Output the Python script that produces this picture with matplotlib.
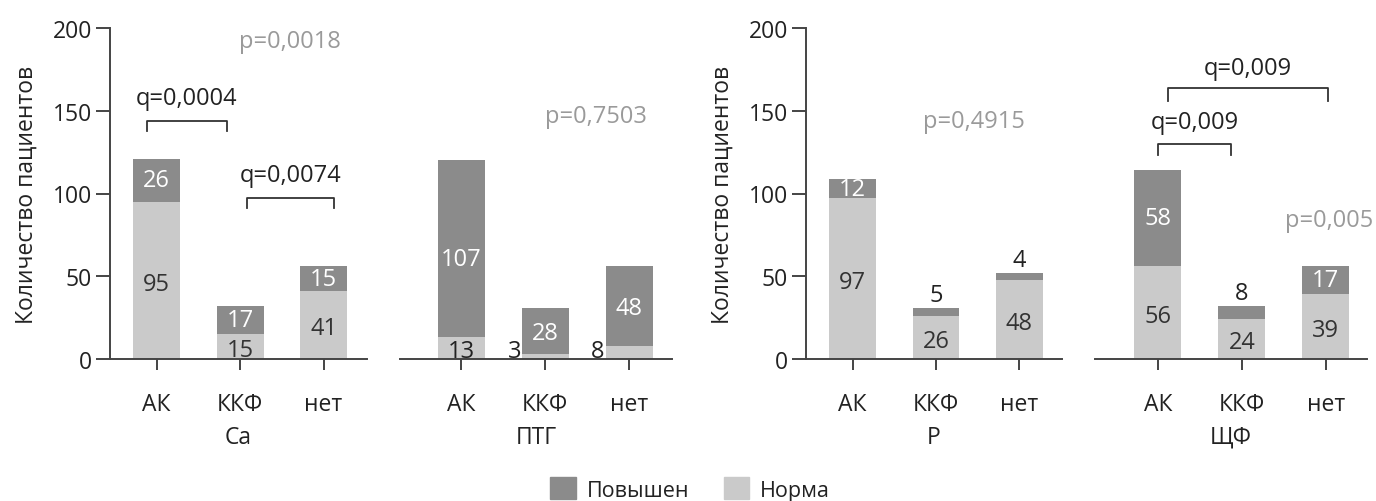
import numpy as np
import matplotlib
matplotlib.use("Agg")
import matplotlib.pyplot as plt
from matplotlib.patches import Patch

plt.rcParams["font.family"] = ["Open Sans", "DejaVu Sans"]
plt.rcParams["font.size"] = 17

# Patient counts per group, "Норма" (bottom) and "Повышен" (top)
groups = ["АК", "ККФ", "нет"]
ca_norm = [95, 15, 41]
ca_high = [26, 17, 15]
ptg_norm = [13, 3, 8]
ptg_high = [107, 28, 48]
p_norm = [97, 26, 48]
p_high = [12, 5, 4]
alp_norm = [56, 24, 39]
alp_high = [58, 8, 17]

DARK = "#8b8b8b"
LIGHT = "#cacaca"
AXIS = "#444444"
PGREY = "#9a9a9a"

fig = plt.figure(figsize=(13.76, 5.02), dpi=100)
W, H = 1376, 502


def add_ax(x0, x1):
    # pixel box -> figure fraction; y from 29 (200) down to 360 (0)
    return fig.add_axes([x0 / W, (H - 360) / H, (x1 - x0) / W, 331 / H])


def style(ax, xlim, show_y, title):
    ax.set_xlim(*xlim)
    ax.set_ylim(0, 200)
    for s in ["top", "right"]:
        ax.spines[s].set_visible(False)
    ax.spines["bottom"].set_color(AXIS)
    ax.spines["bottom"].set_linewidth(1.4)
    ax.set_xticks(range(len(groups)))
    ax.set_xticklabels(groups, color="#222222", fontsize=16.5)
    ax.tick_params(axis="x", length=8, width=1.4, color=AXIS, pad=16)
    if show_y:
        ax.spines["left"].set_color(AXIS)
        ax.spines["left"].set_linewidth(1.4)
        ax.set_yticks([0, 50, 100, 150, 200])
        ax.tick_params(axis="y", length=10, width=1.4, color=AXIS, labelcolor="#222222",
                       labelsize=16.5, pad=3)
        ax.set_ylabel("Количество пациентов", color="#222222", labelpad=10, fontsize=16.5)
    else:
        ax.spines["left"].set_visible(False)
        ax.set_yticks([])
    ax.set_xlabel(title, color="#222222", labelpad=6, fontsize=16.5)


def stacked(ax, norm, high, inside_norm=(True, True, True), inside_high=(True, True, True)):
    x = np.arange(len(groups))
    ax.bar(x, norm, width=0.56, color=LIGHT, linewidth=0)
    ax.bar(x, high, width=0.56, bottom=norm, color=DARK, linewidth=0)
    for i in x:
        if inside_norm[i]:
            ax.text(i, norm[i] / 2 - 2, str(norm[i]), ha="center", va="center", color="#333333")
        if inside_high[i]:
            ax.text(i, norm[i] + high[i] / 2, str(high[i]), ha="center", va="center", color="white")
        else:
            ax.text(i, norm[i] + high[i] + 0.5, str(high[i]), ha="center", va="bottom",
                    color="#222222")


def bracket(ax, x0, x1, y, drop, label, ty):
    ax.plot([x0, x0, x1, x1], [y - drop, y, y, y - drop], color="#333333", lw=1.3,
            clip_on=False)
    ax.text((x0 + x1) / 2, ty, label, ha="center", va="center", color="#222222")


# Ca
ax1 = add_ax(110, 367)
style(ax1, (-0.56, 2.52), True, "Ca")
stacked(ax1, ca_norm, ca_high)
ax1.text(1.6, 192, "p=0,0018", ha="center", va="center", color=PGREY)
bracket(ax1, -0.12, 0.84, 144, 6, "q=0,0004", 158)
bracket(ax1, 1.08, 2.13, 97, 6, "q=0,0074", 111)

# ПТГ
ax2 = add_ax(400, 672)
style(ax2, (-0.73, 2.51), False, "ПТГ")
x = np.arange(len(groups))
ax2.bar(x, ptg_norm, width=0.56, color=LIGHT, linewidth=0)
ax2.bar(x, ptg_high, width=0.56, bottom=ptg_norm, color=DARK, linewidth=0)
ax2.text(0, 5, str(ptg_norm[0]), ha="center", va="center", color="#222222")
ax2.text(1 - 0.36, 5, str(ptg_norm[1]), ha="center", va="center", color="#222222")
ax2.text(2 - 0.38, 5, str(ptg_norm[2]), ha="center", va="center", color="#222222")
for i in x:
    ax2.text(i, ptg_norm[i] + ptg_high[i] / 2 - (6 if i == 0 else 1), str(ptg_high[i]),
             ha="center", va="center", color="white")
ax2.text(1.6, 147, "p=0,7503", ha="center", va="center", color=PGREY)

# P
ax3 = add_ax(806, 1062)
style(ax3, (-0.56, 2.51), True, "P")
stacked(ax3, p_norm, p_high, inside_high=(True, False, False))
ax3.text(1.45, 144, "p=0,4915", ha="center", va="center", color=PGREY)

# ЩФ
ax4 = add_ax(1095, 1367)
style(ax4, (-0.75, 2.49), False, "ЩФ")
stacked(ax4, alp_norm, alp_high, inside_high=(True, False, True))
ax4.text(2.04, 84, "p=0,005", ha="center", va="center", color=PGREY)
bracket(ax4, 0.0, 0.87, 130, 7, "q=0,009", 143)
bracket(ax4, 0.12, 2.02, 164, 8, "q=0,009", 176)

handles = [Patch(color=DARK, label="Повышен"), Patch(color=LIGHT, label="Норма")]
fig.legend(handles=handles, loc="center", bbox_to_anchor=(690 / W, 1 - 490 / H), ncol=2,
           frameon=False, handlelength=1.2, handleheight=1.2, handletextpad=0.5,
           columnspacing=1.6, labelcolor="#222222", fontsize=15.5)

fig.savefig("out.png", dpi=100)
